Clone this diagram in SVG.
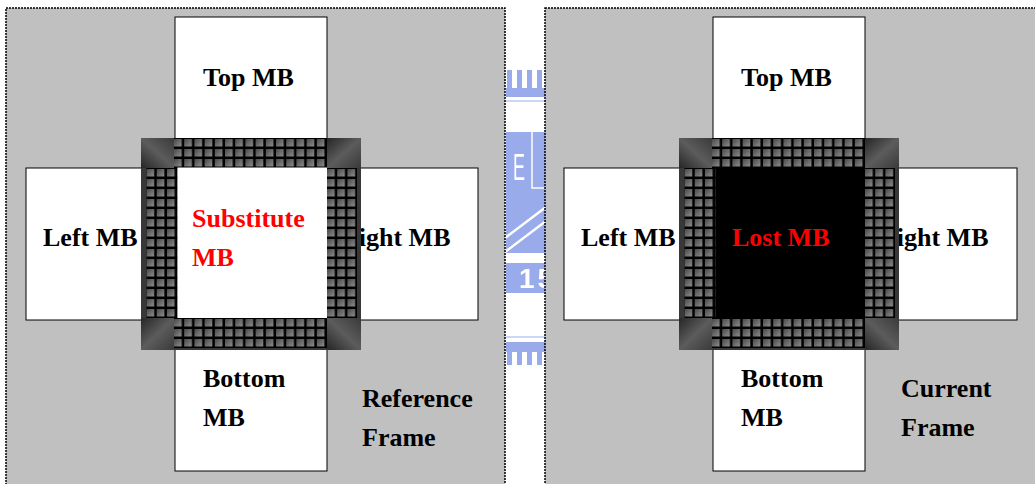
<svg xmlns="http://www.w3.org/2000/svg" xmlns:xlink="http://www.w3.org/1999/xlink" width="1035" height="484" viewBox="0 0 1035 484">
<style>
 .panel{fill:#c0c0c0;stroke:#000;stroke-width:1.5;stroke-dasharray:2 1}
 .mb{fill:#fff;stroke:#000;stroke-width:1}
 .t{font-family:"Liberation Serif","Times New Roman",serif;font-weight:bold;font-size:26px;fill:#000}
 .red{fill:#ff0000}
 .wm{fill:#8ea3e8}
 .wl{stroke:#fff;fill:none}
</style>
<defs>
 <linearGradient id="cellG" x1="0" y1="0" x2="1" y2="1"><stop offset="0" stop-color="#474747"/><stop offset="1" stop-color="#8e8e8e"/></linearGradient>
 <pattern id="grid" patternUnits="userSpaceOnUse" width="10.2" height="10"><rect width="10.2" height="10" fill="#000"/><rect x="0" y="1" width="7.7" height="7.5" fill="url(#cellG)"/></pattern>
 <linearGradient id="cA" x1="0" y1="1" x2="1" y2="0"><stop offset="0" stop-color="#262626"/><stop offset="0.5" stop-color="#5c5c5c"/><stop offset="1" stop-color="#3a3a3a"/></linearGradient>
 <linearGradient id="cB" x1="0" y1="0" x2="1" y2="1"><stop offset="0" stop-color="#262626"/><stop offset="0.5" stop-color="#5c5c5c"/><stop offset="1" stop-color="#3a3a3a"/></linearGradient>
 <clipPath id="wmclip"><rect x="506" y="0" width="39" height="484"/></clipPath>
 <filter id="soft" x="-5%" y="-5%" width="110%" height="110%"><feGaussianBlur stdDeviation="0.6"/></filter>
 <g id="frameShape">
  <rect x="141" y="138" width="220" height="212" fill="#383838"/>
  <rect x="141" y="138" width="33" height="30" fill="url(#cA)"/>
  <rect x="327" y="138" width="34" height="30" fill="url(#cB)"/>
  <rect x="141" y="318" width="33" height="32" fill="url(#cB)"/>
  <rect x="327" y="318" width="34" height="32" fill="url(#cA)"/>
  <g transform="translate(174,138)"><rect width="153" height="30" fill="url(#grid)"/></g>
  <g transform="translate(174,318)"><rect width="153" height="30" fill="url(#grid)"/></g>
  <g transform="translate(146.5,168)"><rect width="31" height="150" fill="url(#grid)"/></g>
  <g transform="translate(327,168)"><rect width="30" height="150" fill="url(#grid)"/></g>
 </g>
</defs>
<rect width="1035" height="484" fill="#fff"/>

<g id="watermark" clip-path="url(#wmclip)">
 <g filter="url(#soft)" opacity="0.9">
 <rect class="wm" x="507" y="70" width="5" height="22"/>
 <rect class="wm" x="517" y="70" width="5" height="22"/>
 <rect class="wm" x="527" y="70" width="5" height="22"/>
 <rect class="wm" x="537" y="70" width="5" height="22"/>
 <rect class="wm" x="506" y="88" width="39" height="9"/>
 <rect class="wm" x="506" y="100" width="39" height="2" opacity="0.5"/>
 <rect class="wm" x="506" y="132" width="39" height="121"/>
 <text x="513" y="180" textLength="12" lengthAdjust="spacingAndGlyphs" style="font-family:'Liberation Sans',Arial,sans-serif;font-size:37px;fill:#fff">E</text>
 <path class="wl" d="M532 132V188H546" stroke-width="1.5"/>
 <path class="wl" d="M505 238L546 207M505 252L546 221" stroke-width="2.5"/>
 <rect class="wm" x="506" y="263" width="39" height="30"/>
 <text x="519" y="288" style="font-family:'Liberation Sans',Arial,sans-serif;font-weight:bold;font-size:28px;fill:#fff;letter-spacing:3px">15</text>
 <rect class="wm" x="506" y="336" width="39" height="2" opacity="0.5"/>
 <rect class="wm" x="506" y="342" width="39" height="10"/>
 <rect class="wm" x="507" y="348" width="5" height="17"/>
 <rect class="wm" x="517" y="348" width="5" height="17"/>
 <rect class="wm" x="527" y="348" width="5" height="17"/>
 <rect class="wm" x="537" y="348" width="5" height="17"/>
 </g>
</g>

<g id="reference-frame">
 <rect class="panel" x="6" y="8" width="499" height="482"/>
 <text class="t" x="362" y="407">Reference</text>
 <text class="t" x="362" y="446">Frame</text>
</g>
<g id="current-frame">
 <rect class="panel" x="545" y="8" width="495" height="482"/>
 <text class="t" x="901" y="397">Current</text>
 <text class="t" x="901" y="436">Frame</text>
</g>

<g id="ref-top-mb"><rect class="mb" x="175" y="17" width="152" height="130"/><text class="t" x="203" y="86">Top MB</text></g>
<g id="ref-left-mb"><rect class="mb" x="26" y="168" width="130" height="152"/><text class="t" x="43" y="246">Left MB</text></g>
<g id="ref-right-mb"><rect class="mb" x="345" y="168" width="133" height="152"/><text class="t" x="340" y="246">Right MB</text></g>
<g id="ref-bottom-mb"><rect class="mb" x="175" y="340" width="152" height="131"/><text class="t" x="203" y="387">Bottom</text><text class="t" x="203" y="426">MB</text></g>
<g id="ref-substitute-mb">
 <use xlink:href="#frameShape" href="#frameShape"/>
 <rect x="177.5" y="167.5" width="149.5" height="150.5" fill="#fff"/>
 <text class="t red" x="192" y="227">Substitute</text>
 <text class="t red" x="192" y="266">MB</text>
</g>

<g id="cur-top-mb"><rect class="mb" x="713" y="17" width="152" height="130"/><text class="t" x="741" y="86">Top MB</text></g>
<g id="cur-left-mb"><rect class="mb" x="564" y="168" width="130" height="152"/><text class="t" x="581" y="246">Left MB</text></g>
<g id="cur-right-mb"><rect class="mb" x="883" y="168" width="134" height="152"/><text class="t" x="878" y="246">Right MB</text></g>
<g id="cur-bottom-mb"><rect class="mb" x="713" y="340" width="152" height="131"/><text class="t" x="741" y="387">Bottom</text><text class="t" x="741" y="426">MB</text></g>
<g id="cur-lost-mb">
 <use xlink:href="#frameShape" href="#frameShape" x="538"/>
 <rect x="715.5" y="167.5" width="149.5" height="150.5" fill="#000"/>
 <text class="t red" x="732" y="246">Lost MB</text>
</g>

<g id="connectors"/>
</svg>
